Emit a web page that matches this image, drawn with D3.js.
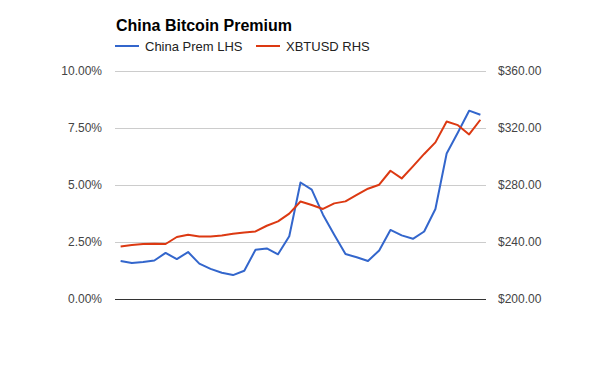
<!DOCTYPE html>
<html>
<head>
<meta charset="utf-8">
<script src="https://cdn.jsdelivr.net/npm/d3@7"></script>
<style>
  body { margin: 0; background: #fff; }
  svg { font-family: "Liberation Sans", Arial, sans-serif; }
</style>
</head>
<body>
<div id="chart"></div>
<script>
// China premium (%) on the left axis, XBTUSD price on the right axis
const chinaPrem = [1.67, 1.58, 1.62, 1.69, 2.02, 1.75, 2.06, 1.55, 1.32, 1.15, 1.05, 1.24,
    2.16, 2.22, 1.96, 2.75, 5.11, 4.80, 3.70, 2.82, 1.97, 1.83, 1.67, 2.13, 3.03, 2.79,
    2.64, 2.96, 3.95, 6.38, 7.30, 8.26, 8.08];
const xbtusd = [236.9, 237.9, 238.6, 238.8, 238.6, 243.5, 245.1, 243.9, 243.9, 244.6, 245.8,
    246.7, 247.4, 251.4, 254.5, 259.9, 268.4, 266.0, 263.2, 267.1, 268.5, 273.0, 277.4,
    280.2, 290.0, 284.6, 293.1, 301.8, 309.9, 324.6, 322.0, 315.5, 325.8];
const leftTicks = [0, 2.5, 5, 7.5, 10];
const rightTicks = [200, 240, 280, 320, 360];
const seriesNames = ['China Prem LHS', 'XBTUSD RHS'];
const colors = ['#3366cc', '#dc3912'];

const W = 600, H = 371;
const margin = { top: 71, right: 114, bottom: 72, left: 115 };
const iw = W - margin.left - margin.right;
const ih = H - margin.top - margin.bottom;

const svg = d3.select('#chart').append('svg')
    .attr('width', W)
    .attr('height', H);

const x = d3.scalePoint()
    .domain(d3.range(chinaPrem.length))
    .range([0, iw])
    .padding(0.5);
const yL = d3.scaleLinear().domain([0, 10]).range([ih, 0]);
const yR = d3.scaleLinear().domain([200, 360]).range([ih, 0]);

const g = svg.append('g')
    .attr('transform', `translate(${margin.left},${margin.top})`);

// gridlines
g.selectAll('line.grid')
    .data(leftTicks.filter(d => d !== 0))
    .enter().append('line')
    .attr('class', 'grid')
    .attr('x1', 0).attr('x2', iw)
    .attr('y1', d => Math.round(yL(d)) + 0.5)
    .attr('y2', d => Math.round(yL(d)) + 0.5)
    .attr('stroke', '#cccccc');

// left axis labels
const leftAxis = d3.axisLeft(yL).tickValues(leftTicks)
    .tickFormat(d => d.toFixed(2) + '%').tickSize(0).tickPadding(13);
g.append('g').call(leftAxis)
    .call(s => s.select('.domain').remove())
    .selectAll('text')
    .attr('fill', '#444').style('font-size', '12px')
    .style('font-family', '"Liberation Sans", Arial, sans-serif');

// right axis labels
const rightAxis = d3.axisRight(yR).tickValues(rightTicks)
    .tickFormat(d => '$' + d.toFixed(2)).tickSize(0).tickPadding(12);
g.append('g').attr('transform', `translate(${iw},0)`).call(rightAxis)
    .call(s => s.select('.domain').remove())
    .selectAll('text')
    .attr('fill', '#444').style('font-size', '12px')
    .style('font-family', '"Liberation Sans", Arial, sans-serif');

// baseline
g.append('line')
    .attr('x1', 0).attr('x2', iw)
    .attr('y1', Math.round(yL(0)) + 0.5).attr('y2', Math.round(yL(0)) + 0.5)
    .attr('stroke', '#333');

// lines
const lineL = d3.line().x((d, i) => x(i)).y(d => yL(d));
const lineR = d3.line().x((d, i) => x(i)).y(d => yR(d));

g.append('path').datum(chinaPrem)
    .attr('d', lineL)
    .attr('fill', 'none').attr('stroke', colors[0]).attr('stroke-width', 2)
    .attr('stroke-linejoin', 'round');

g.append('path').datum(xbtusd)
    .attr('d', lineR)
    .attr('fill', 'none').attr('stroke', colors[1]).attr('stroke-width', 2)
    .attr('stroke-linejoin', 'round');

// title
svg.append('text')
    .attr('x', 116).attr('y', 31)
    .attr('fill', '#000')
    .style('font-size', '16px').style('font-weight', 'bold')
    .text('China Bitcoin Premium');

// legend
const legendX = [115, 256];
const legend = svg.selectAll('g.legend')
    .data(seriesNames)
    .enter().append('g')
    .attr('class', 'legend')
    .attr('transform', (d, i) => `translate(${legendX[i]},46)`);
legend.append('line')
    .attr('x1', 0).attr('x2', 24).attr('y1', 0).attr('y2', 0)
    .attr('stroke', (d, i) => colors[i]).attr('stroke-width', 2);
legend.append('text')
    .attr('x', 30).attr('y', 4.5)
    .attr('fill', '#222')
    .style('font-size', '13px')
    .text(d => d);
</script>
</body>
</html>
